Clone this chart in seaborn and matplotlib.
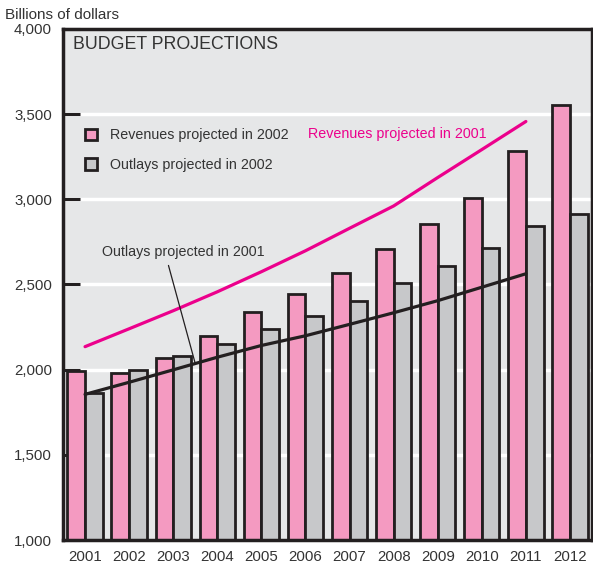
import matplotlib
matplotlib.use("Agg")
import matplotlib.pyplot as plt
import numpy as np
import pandas as pd
import seaborn as sns
from matplotlib.patches import Patch
from matplotlib.ticker import FuncFormatter

# Data (billions of dollars)
years = [str(y) for y in range(2001, 2013)]
revenues_2002 = [1991, 1980, 2068, 2200, 2340, 2444, 2568, 2706, 2857, 3009, 3282, 3555]
outlays_2002 = [1862, 1998, 2082, 2148, 2240, 2314, 2406, 2506, 2608, 2712, 2841, 2912]

line_years = years[:11]
revenues_2001 = [2135, 2240, 2346, 2457, 2575, 2698, 2830, 2961, 3128, 3292, 3457]
outlays_2001 = [1855, 1926, 1999, 2073, 2142, 2199, 2266, 2334, 2405, 2484, 2563]

PINK = "#f49ac1"
GRAY = "#c7c8ca"
EDGE = "#231f20"
MAGENTA = "#ec008c"
BG = "#e6e7e8"
TEXT = "#333333"

sns.set_style("white")
plt.rcParams["font.family"] = ["Liberation Sans", "DejaVu Sans"]

fig = plt.figure(figsize=(5.93, 5.73), dpi=100)
ax = fig.add_axes([63 / 593, 1 - 540 / 573, 529 / 593, 511 / 573])
ax.set_facecolor(BG)

bars = pd.DataFrame({
    "year": years * 2,
    "value": revenues_2002 + outlays_2002,
    "series": ["Revenues projected in 2002"] * len(years) + ["Outlays projected in 2002"] * len(years),
})
sns.barplot(
    data=bars, x="year", y="value", hue="series",
    palette=[PINK, GRAY], saturation=1, width=0.8,
    edgecolor=EDGE, linewidth=2, legend=False, ax=ax, zorder=2,
)

pos = [years.index(y) for y in line_years]
sns.lineplot(x=pos, y=revenues_2001, color=MAGENTA, linewidth=2.3, ax=ax, zorder=3)
sns.lineplot(x=pos, y=outlays_2001, color=EDGE, linewidth=2.3, ax=ax, zorder=3)

ax.set_xlim(-0.5, len(years) - 0.5)
ax.set_ylim(1000, 4000)
ax.set_yticks(range(1000, 4001, 500))
ax.yaxis.set_major_formatter(FuncFormatter(lambda v, p: f"{int(v):,}"))
ax.set_xlabel("")
ax.set_ylabel("")

ax.set_axisbelow(True)
ax.grid(axis="y", color="white", linewidth=2.5)
ax.grid(axis="x", visible=False)
for s in ax.spines.values():
    s.set_color(EDGE)
    s.set_linewidth(2.5)
ax.tick_params(axis="y", direction="in", length=12, width=2.2, color=EDGE,
               pad=8, labelsize=10.8, labelcolor=TEXT, left=True)
ax.tick_params(axis="x", length=0, pad=7, labelsize=10.8, labelcolor=TEXT)

# Texts
ax.text(0.019, 0.969, "BUDGET PROJECTIONS", transform=ax.transAxes,
        fontsize=12.8, color=TEXT, va="center", ha="left")
fig.text(5 / 593, 1 - 15 / 573, "Billions of dollars", fontsize=11, color=TEXT,
         va="center", ha="left")

ax.text(5.06, 3382, "Revenues projected in 2001", color=MAGENTA, fontsize=10.3,
        va="center", ha="left")
mid = (outlays_2001[2] + outlays_2001[3]) / 2
ax.annotate("Outlays projected in 2001", xy=(2.5, mid), xytext=(0.38, 2688),
            fontsize=10.3, color=TEXT, va="center", ha="left",
            arrowprops=dict(arrowstyle="-", color=EDGE, lw=0.9, relpos=(0.4, 0),
                            shrinkA=2, shrinkB=0))

handles = [Patch(facecolor=PINK, edgecolor=EDGE, linewidth=2),
           Patch(facecolor=GRAY, edgecolor=EDGE, linewidth=2)]
ax.legend(handles, ["Revenues projected in 2002", "Outlays projected in 2002"],
          loc="upper left", bbox_to_anchor=(0.0416, 0.806), frameon=False,
          fontsize=10.3, labelcolor=TEXT, handlelength=0.84, handleheight=0.84,
          handletextpad=0.9, labelspacing=1.1, borderpad=0, borderaxespad=0)

fig.savefig("out.png", dpi=100, facecolor="white")
